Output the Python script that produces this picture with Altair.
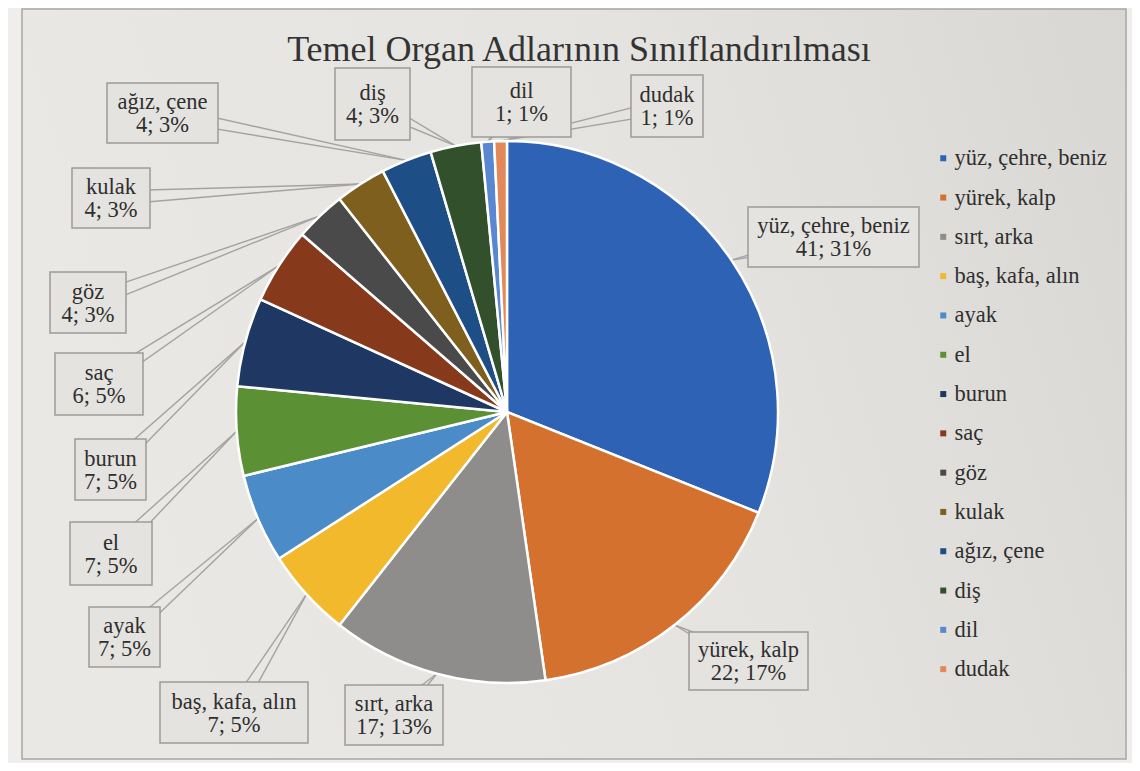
import altair as alt
import pandas as pd

# ---- data ----
categories = ["yüz, çehre, beniz", "yürek, kalp", "sırt, arka", "baş, kafa, alın",
              "ayak", "el", "burun", "saç", "göz", "kulak", "ağız, çene", "diş",
              "dil", "dudak"]
values = [41, 22, 17, 7, 7, 7, 7, 6, 4, 4, 4, 4, 1, 1]
TITLE = "Temel Organ Adlarının Sınıflandırılması"

# ---- styles ----
colors = ["#2d62b5", "#d5712e", "#8e8d8b", "#f1b92b", "#4b8cc8", "#5c9034",
          "#1f3763", "#87391b", "#4a4a4a", "#7e5f1e", "#1e4e86", "#33502c",
          "#5a87d2", "#e2895a"]
BG = "#e5e3df"
SERIF = "Liberation Serif"
TXT = "#2f2f2f"
LINE = "#a3a3a3"
FS = 22.5

# ---- layout (page pixels) of the callout boxes ----
box_left = [748, 689, 345, 160, 89, 70, 75, 55, 50, 72, 107, 335, 472, 631]
box_right = [919, 808, 443, 308, 160, 152, 146, 143, 126, 150, 218, 410, 571, 703]
box_top = [207, 632, 685, 682, 607, 522, 439, 353, 272, 168, 83, 68, 67, 75]
box_bottom = [267, 690, 745, 743, 667, 585, 500, 415, 333, 228, 143, 140, 137, 137]

OFF = 8           # page margin
CX, CY, R = 507 - OFF, 412 - OFF, 271
W, H = 1124, 755

df = pd.DataFrame({
    "category": categories,
    "value": values,
    "idx": list(range(len(categories))),
    "bl": box_left, "br": box_right, "bt": box_top, "bb": box_bottom,
})

base = (
    alt.Chart(df)
    .transform_joinaggregate(total="sum(value)")
    .transform_window(cum="sum(value)", sort=[alt.SortField("idx")], frame=[None, 0])
    .transform_calculate(
        ang="2*PI*(datum.cum - datum.value/2)/datum.total",
        tx=f"{CX} + {R}*sin(datum.ang)",
        ty=f"{CY} - {R}*cos(datum.ang)",
        x0=f"datum.bl - {OFF}", x1=f"datum.br - {OFF}",
        y0=f"datum.bt - {OFF}", y1=f"datum.bb - {OFF}",
        bx=f"(datum.bl + datum.br)/2 - {OFF}",
        by=f"(datum.bt + datum.bb)/2 - {OFF}",
    )
    .transform_calculate(
        ln="sqrt(pow(datum.tx-datum.bx,2)+pow(datum.ty-datum.by,2))",
    )
    .transform_calculate(
        ax1="datum.bx - 7*(datum.ty-datum.by)/datum.ln",
        ay1="datum.by + 7*(datum.tx-datum.bx)/datum.ln",
        ax2="datum.bx + 7*(datum.ty-datum.by)/datum.ln",
        ay2="datum.by - 7*(datum.tx-datum.bx)/datum.ln",
        line1="datum.category",
        line2="datum.value + '; ' + format(datum.value/datum.total, '.0%')",
        t1y="datum.by - 11",
        t2y="datum.by + 12",
    )
)

frame = alt.Chart(pd.DataFrame({"a": [0]})).mark_rect(
    fill={"gradient": "linear", "x1": 0, "y1": 0.2, "x2": 1, "y2": 0,
          "stops": [{"offset": 0, "color": "#e9e8e5"},
                    {"offset": 0.55, "color": "#e5e3df"},
                    {"offset": 1, "color": "#d9d7d3"}]},
    stroke="#a9a7a3", strokeWidth=1.5
).encode(x=alt.value(22 - OFF), x2=alt.value(1126 - OFF),
         y=alt.value(1), y2=alt.value(759 - OFF))

pie = alt.Chart(df).mark_arc(
    radius=R, stroke="white", strokeWidth=2.5, x=CX, y=CY
).encode(
    theta=alt.Theta("value:Q", stack=True),
    color=alt.Color(
        "category:N",
        scale=alt.Scale(domain=categories, range=colors),
        sort=categories,
        legend=alt.Legend(
            title=None, orient="none", legendX=932 - OFF, legendY=147 - OFF,
            symbolType="square", symbolSize=36, symbolStrokeWidth=0,
            labelFont=SERIF, labelFontSize=FS, labelColor=TXT,
            rowPadding=16.3, padding=0, labelOffset=0, labelLimit=300,
        ),
    ),
    order=alt.Order("idx:Q"),
)

rule1 = base.mark_rule(color=LINE, strokeWidth=1.4).encode(
    x=alt.X("ax1:Q", scale=None, axis=None), y=alt.Y("ay1:Q", scale=None, axis=None),
    x2="tx:Q", y2="ty:Q")
rule2 = base.mark_rule(color=LINE, strokeWidth=1.4).encode(
    x=alt.X("ax2:Q", scale=None, axis=None), y=alt.Y("ay2:Q", scale=None, axis=None),
    x2="tx:Q", y2="ty:Q")

boxes = base.mark_rect(fill=BG, stroke="#9d9b98", strokeWidth=1.5).encode(
    x=alt.X("x0:Q", scale=None, axis=None), x2="x1:Q",
    y=alt.Y("y0:Q", scale=None, axis=None), y2="y1:Q")

txt1 = base.mark_text(font=SERIF, fontSize=FS, color=TXT, baseline="middle").encode(
    x=alt.X("bx:Q", scale=None, axis=None), y=alt.Y("t1y:Q", scale=None, axis=None),
    text="line1:N")
txt2 = base.mark_text(font=SERIF, fontSize=FS, color=TXT, baseline="middle").encode(
    x=alt.X("bx:Q", scale=None, axis=None), y=alt.Y("t2y:Q", scale=None, axis=None),
    text="line2:N")

title = alt.Chart(pd.DataFrame({"t": [TITLE]})).mark_text(
    font=SERIF, fontSize=36, color="#333333", baseline="middle"
).encode(text="t:N", x=alt.value(579 - OFF), y=alt.value(50 - OFF))

chart = (
    alt.layer(frame, title, rule1, rule2, pie, boxes, txt1, txt2)
    .resolve_scale(x="independent", y="independent")
    .properties(width=W, height=H, autosize="none", padding=0, background="#efeeec")
    .configure_view(stroke=None)
)

chart.save("out.html", embed_options={"renderer": "svg", "actions": False})
